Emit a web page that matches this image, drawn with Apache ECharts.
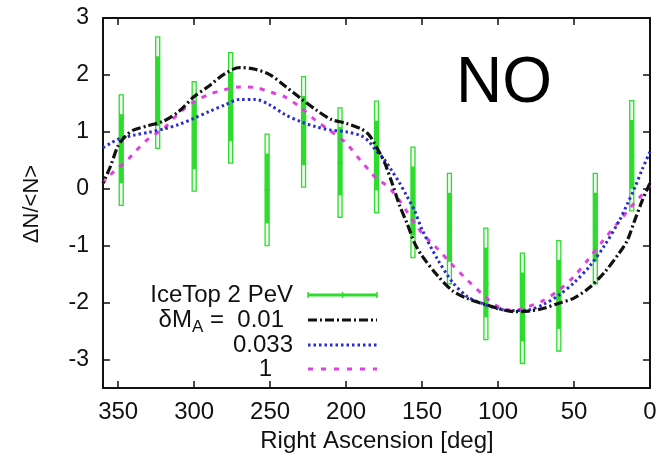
<!DOCTYPE html>
<html>
<head>
<meta charset="utf-8">
<script src="https://cdn.jsdelivr.net/npm/echarts@6/dist/echarts.min.js"></script>
<style>
  html, body { margin: 0; padding: 0; background: #fff; }
  #chart { width: 662px; height: 464px; }
</style>
</head>
<body>
<div id="chart"></div>
<script>
// IceTop 2 PeV relative intensity per right-ascension bin
const binRA     = [12, 36, 60, 84, 108, 132, 156, 180, 204, 228, 252, 276, 300, 324, 348];
const binValue  = [0.58, -0.70, -1.88, -2.10, -1.67, -0.70, -0.24, 0.56, 0.46, 1.00, -0.02, 1.42, 0.92, 1.69, 0.68];
const binError  = [0.97, 0.97, 0.97, 0.97, 0.98, 0.97, 0.97, 0.98, 0.96, 0.97, 0.98, 0.97, 0.96, 0.98, 0.97];

// model curves sampled in right ascension
const curveRA = [0, 5, 10, 15, 20, 30, 40, 50, 60, 70, 80, 90, 100, 110, 120, 130, 140, 150, 155, 160, 165,
                 170, 175, 180, 185, 190, 200, 210, 220, 230, 240, 250, 260, 270, 280, 290, 300, 310, 320,
                 330, 340, 345, 350, 355, 360];
const dM001  = [0.10, -0.20, -0.55, -0.91, -1.12, -1.47, -1.74, -1.92, -2.01, -2.10, -2.15, -2.16, -2.10, -2.02,
                -1.93, -1.79, -1.52, -1.18, -0.95, -0.60, -0.28, 0.12, 0.48, 0.73, 0.95, 1.05, 1.15, 1.22,
                1.39, 1.59, 1.80, 2.00, 2.10, 2.13, 2.02, 1.81, 1.62, 1.36, 1.19, 1.11, 1.03, 0.93, 0.76,
                0.40, 0.10];
const dM0033 = [0.65, 0.35, 0.02, -0.27, -0.55, -1.00, -1.37, -1.65, -1.87, -2.03, -2.13, -2.14, -2.11, -2.02,
                -1.90, -1.64, -1.23, -0.72, -0.38, -0.13, 0.11, 0.32, 0.52, 0.66, 0.83, 0.93, 1.00, 1.03,
                1.09, 1.18, 1.30, 1.47, 1.57, 1.57, 1.47, 1.36, 1.24, 1.13, 1.05, 0.99, 0.94, 0.91, 0.87,
                0.80, 0.72];
const dM1    = [0.06, -0.10, -0.24, -0.40, -0.56, -0.88, -1.22, -1.54, -1.78, -1.96, -2.07, -2.14, -2.07, -1.86,
                -1.61, -1.34, -1.05, -0.78, -0.60, -0.40, -0.20, -0.03, 0.09, 0.18, 0.33, 0.48, 0.80, 1.01,
                1.20, 1.43, 1.61, 1.70, 1.78, 1.79, 1.74, 1.66, 1.53, 1.33, 1.06, 0.88, 0.62, 0.47, 0.37,
                0.25, 0.10];

const xTicks = [0, 50, 100, 150, 200, 250, 300, 350];
const yTicks = [-3, -2, -1, 0, 1, 2, 3];

const seriesNames = ['IceTop 2 PeV', '0.01', '0.033', '1'];

const GREEN = '#2ddc2d';
const BLACK = '#111111';
const BLUE = '#2a2ad0';
const MAGENTA = '#e040e0';
const FONT = '"Liberation Sans", Arial, Helvetica, sans-serif';

const pairs = (xs, ys) => xs.map((x, i) => [x, ys[i]]);

const chart = echarts.init(document.getElementById('chart'), null, { renderer: 'canvas' });

const frameAxis = {
  min: 0, max: 360, type: 'value', inverse: true,
  axisLine: { show: true, onZero: false, lineStyle: { color: BLACK, width: 2 } },
  axisTick: { show: true, inside: true, length: 7, customValues: xTicks, lineStyle: { color: BLACK, width: 1.5 } },
  splitLine: { show: false }
};
const frameYAxis = {
  min: -3.5, max: 3, type: 'value',
  axisLine: { show: true, onZero: false, lineStyle: { color: BLACK, width: 2 } },
  axisTick: { show: true, inside: true, length: 7, customValues: yTicks, lineStyle: { color: BLACK, width: 1.5 } },
  splitLine: { show: false }
};

const legendX1 = 308, legendX2 = 377;
const legendY = [295, 320, 345, 369];

chart.setOption({
  animation: false,
  backgroundColor: '#fff',
  grid: { left: 103, right: 12, top: 18, bottom: 76, containLabel: false },
  xAxis: [
    Object.assign({}, frameAxis, {
      position: 'bottom',
      axisLabel: { show: true, customValues: xTicks, fontSize: 24, fontFamily: FONT, color: '#111', margin: 12 }
    }),
    Object.assign({}, frameAxis, { position: 'top', axisLabel: { show: false } })
  ],
  yAxis: [
    Object.assign({}, frameYAxis, {
      position: 'left',
      axisLabel: { show: true, customValues: yTicks, fontSize: 23, fontFamily: FONT, color: '#111', margin: 14 }
    }),
    Object.assign({}, frameYAxis, { position: 'right', axisLabel: { show: false } })
  ],
  series: [
    {
      name: seriesNames[0],
      type: 'custom',
      xAxisIndex: 0, yAxisIndex: 0,
      data: binRA.map((ra, i) => [ra, binValue[i], binError[i]]),
      encode: { x: 0, y: 1 },
      z: 2,
      renderItem: function (params, api) {
        const ra = api.value(0), v = api.value(1), e = api.value(2);
        const top = api.coord([ra, v + e]);
        const bot = api.coord([ra, v - e]);
        const inTop = api.coord([ra, v + 0.65 * e]);
        const inBot = api.coord([ra, v - 0.6 * e]);
        const mid = api.coord([ra, v]);
        const w = 4;
        return {
          type: 'group',
          children: [
            { type: 'rect', shape: { x: top[0] - w / 2, y: top[1], width: w, height: bot[1] - top[1] },
              style: { fill: 'rgba(45,220,45,0.08)', stroke: GREEN, lineWidth: 1.3 } },
            { type: 'rect', shape: { x: inTop[0] - w / 2, y: inTop[1], width: w, height: inBot[1] - inTop[1] },
              style: { fill: GREEN } },
            { type: 'line', shape: { x1: mid[0] - 2.5, y1: mid[1], x2: mid[0] + 2.5, y2: mid[1] },
              style: { stroke: GREEN, lineWidth: 1.5 } }
          ]
        };
      }
    },
    {
      name: seriesNames[1], type: 'line', data: pairs(curveRA, dM001),
      smooth: 0.3, showSymbol: false, z: 5,
      lineStyle: { color: BLACK, width: 3.2, type: [9, 3, 2, 3] }
    },
    {
      name: seriesNames[2], type: 'line', data: pairs(curveRA, dM0033),
      smooth: 0.3, showSymbol: false, z: 4,
      lineStyle: { color: BLUE, width: 3, type: [2.5, 3] }
    },
    {
      name: seriesNames[3], type: 'line', data: pairs(curveRA, dM1),
      smooth: 0.3, showSymbol: false, z: 3,
      lineStyle: { color: MAGENTA, width: 3, type: [5, 7] }
    }
  ],
  graphic: [
    // axis titles
    { type: 'text', x: 377, y: 441,
      style: { text: 'Right Ascension [deg]', textAlign: 'center', textVerticalAlign: 'middle',
               font: '24px ' + FONT, fill: '#111' } },
    { type: 'text', x: 32, y: 204, rotation: Math.PI / 2,
      style: { text: 'ΔN/<N>', textAlign: 'center', textVerticalAlign: 'middle',
               font: '22px ' + FONT, fill: '#111' } },
    // panel tag
    { type: 'text', x: 504, y: 84,
      style: { text: 'NO', textAlign: 'center', textVerticalAlign: 'middle',
               font: '64px ' + FONT, fill: '#000' } },
    // key
    { type: 'text', x: 293, y: legendY[0],
      style: { text: seriesNames[0], textAlign: 'right', textVerticalAlign: 'middle',
               font: '24px ' + FONT, fill: '#111' } },
    { type: 'line', shape: { x1: legendX1, y1: legendY[0], x2: legendX2, y2: legendY[0] },
      style: { stroke: GREEN, lineWidth: 3 } },
    { type: 'line', shape: { x1: legendX1, y1: legendY[0] - 3, x2: legendX1, y2: legendY[0] + 3 },
      style: { stroke: GREEN, lineWidth: 1.5 } },
    { type: 'line', shape: { x1: (legendX1 + legendX2) / 2, y1: legendY[0] - 3, x2: (legendX1 + legendX2) / 2, y2: legendY[0] + 3 },
      style: { stroke: GREEN, lineWidth: 1.5 } },
    { type: 'line', shape: { x1: legendX2, y1: legendY[0] - 3, x2: legendX2, y2: legendY[0] + 3 },
      style: { stroke: GREEN, lineWidth: 1.5 } },

    { type: 'text', x: 284, y: legendY[1],
      style: { text: '{t|δM}{s|A}{t| =  ' + seriesNames[1] + '}', textAlign: 'right', textVerticalAlign: 'middle',
               rich: {
                 t: { font: '24px ' + FONT, fill: '#111' },
                 s: { font: '17px ' + FONT, fill: '#111', padding: [14, 0, 0, 0] }
               } } },
    { type: 'line', shape: { x1: legendX1, y1: legendY[1], x2: legendX2, y2: legendY[1] },
      style: { stroke: BLACK, lineWidth: 3, lineDash: [9, 3, 2, 3] } },

    { type: 'text', x: 293, y: legendY[2],
      style: { text: seriesNames[2], textAlign: 'right', textVerticalAlign: 'middle',
               font: '24px ' + FONT, fill: '#111' } },
    { type: 'line', shape: { x1: legendX1, y1: legendY[2], x2: legendX2, y2: legendY[2] },
      style: { stroke: BLUE, lineWidth: 3, lineDash: [2.5, 3] } },

    { type: 'text', x: 272, y: legendY[3],
      style: { text: seriesNames[3], textAlign: 'right', textVerticalAlign: 'middle',
               font: '24px ' + FONT, fill: '#111' } },
    { type: 'line', shape: { x1: legendX1, y1: legendY[3], x2: legendX2, y2: legendY[3] },
      style: { stroke: MAGENTA, lineWidth: 3, lineDash: [5, 8] } }
  ]
});
</script>
</body>
</html>
